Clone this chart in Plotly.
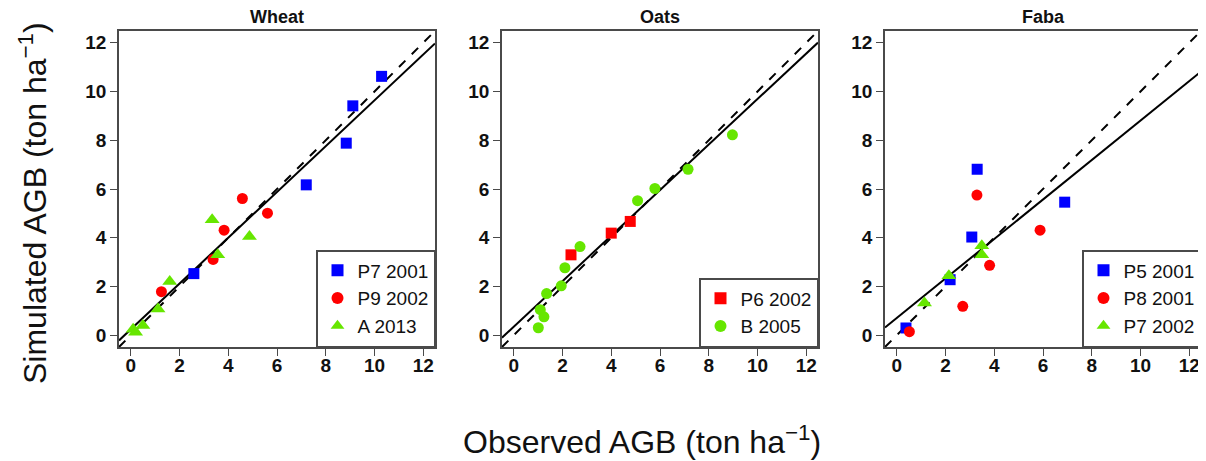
import plotly.graph_objects as go

# ---------------- data ----------------
panel_titles = ["Wheat", "Oats", "Faba"]
tick_vals = [0, 2, 4, 6, 8, 10, 12]
tick_text = ["0", "2", "4", "6", "8", "10", "12"]

# Wheat
wheat_p7_2001_obs = [2.59, 7.20, 8.84, 9.11, 10.29]
wheat_p7_2001_sim = [2.53, 6.17, 7.88, 9.41, 10.62]
wheat_p9_2002_obs = [1.26, 3.38, 3.83, 4.58, 5.61]
wheat_p9_2002_sim = [1.79, 3.11, 4.31, 5.61, 5.01]
wheat_a_2013_obs = [0.10, 0.20, 0.50, 1.12, 1.60, 3.34, 3.57, 4.87]
wheat_a_2013_sim = [0.25, 0.12, 0.40, 1.08, 2.21, 4.74, 3.30, 4.05]

# Oats
oats_p6_2002_obs = [2.35, 4.00, 4.78]
oats_p6_2002_sim = [3.30, 4.19, 4.67]
oats_b_2005_obs = [1.01, 1.09, 1.24, 1.35, 1.95, 2.10, 2.72, 5.08, 5.79, 7.15, 8.97]
oats_b_2005_sim = [0.31, 1.05, 0.76, 1.71, 2.03, 2.77, 3.64, 5.52, 6.02, 6.81, 8.22]

# Faba
faba_p5_2001_obs = [0.38, 2.19, 3.08, 3.30, 6.89]
faba_p5_2001_sim = [0.30, 2.28, 4.03, 6.81, 5.46]
faba_p8_2001_obs = [0.52, 2.71, 3.29, 3.81, 5.88]
faba_p8_2001_sim = [0.15, 1.19, 5.75, 2.87, 4.31]
faba_p7_2002_obs = [1.14, 2.14, 3.49, 3.49]
faba_p7_2002_sim = [1.32, 2.44, 3.67, 3.30]

# fitted regression lines (intercept, slope) per panel
fit_intercepts = [0.24, 0.35, 0.71]
fit_slopes = [0.94, 0.934, 0.81]

# ---------------- styling ----------------
BLUE = "#0000FF"
RED = "#FF0000"
GREEN = "#66E600"
FRAME = "#4a4a4a"
FONT = "Liberation Sans, Arial, sans-serif"
AX_RANGE = [-0.48, 12.48]

W, H = 1206, 461
OFF = 8  # page body margin of the browser


def px(x):
    return (x - OFF) / W


def py(y):
    return 1 - (y - OFF) / H


x_domains = [[px(119), px(435)], [px(502), px(818)], [px(885), px(1201)]]
y_domain = [py(347), py(31)]

series = [
    [("P7 2001", wheat_p7_2001_obs, wheat_p7_2001_sim, BLUE, "square", 11),
     ("P9 2002", wheat_p9_2002_obs, wheat_p9_2002_sim, RED, "circle", 11),
     ("A 2013", wheat_a_2013_obs, wheat_a_2013_sim, GREEN, "triangle-up", 13)],
    [("P6 2002", oats_p6_2002_obs, oats_p6_2002_sim, RED, "square", 11),
     ("B 2005", oats_b_2005_obs, oats_b_2005_sim, GREEN, "circle", 11)],
    [("P5 2001", faba_p5_2001_obs, faba_p5_2001_sim, BLUE, "square", 11),
     ("P8 2001", faba_p8_2001_obs, faba_p8_2001_sim, RED, "circle", 11),
     ("P7 2002", faba_p7_2002_obs, faba_p7_2002_sim, GREEN, "triangle-up", 13)],
]

fig = go.Figure()
legend_names = ["legend", "legend2", "legend3"]

for i in range(3):
    xa = "x" if i == 0 else f"x{i+1}"
    ya = "y" if i == 0 else f"y{i+1}"
    # 1:1 dashed line
    fig.add_trace(go.Scatter(x=AX_RANGE, y=AX_RANGE, mode="lines",
                             line=dict(color="black", width=2, dash="dash"),
                             xaxis=xa, yaxis=ya, showlegend=False, hoverinfo="skip"))
    # fitted line
    b0, b1 = fit_intercepts[i], fit_slopes[i]
    fig.add_trace(go.Scatter(x=AX_RANGE, y=[b0 + b1 * v for v in AX_RANGE], mode="lines",
                             line=dict(color="black", width=2),
                             xaxis=xa, yaxis=ya, showlegend=False, hoverinfo="skip"))
    for name, xs, ys, col, sym, sz in series[i]:
        fig.add_trace(go.Scatter(x=xs, y=ys, mode="markers", name=name,
                                 marker=dict(color=col, symbol=sym, size=sz, line=dict(width=0)),
                                 xaxis=xa, yaxis=ya, legend=legend_names[i]))

layout = dict(
    width=W, height=H,
    margin=dict(l=0, r=0, t=0, b=0),
    paper_bgcolor="white", plot_bgcolor="white",
    font=dict(family=FONT, color="black"),
    showlegend=True,
)

for i in range(3):
    xk = "xaxis" if i == 0 else f"xaxis{i+1}"
    yk = "yaxis" if i == 0 else f"yaxis{i+1}"
    anchor_x = "y" if i == 0 else f"y{i+1}"
    anchor_y = "x" if i == 0 else f"x{i+1}"
    common = dict(range=AX_RANGE, tickvals=tick_vals, ticktext=tick_text,
                  ticks="outside", ticklen=7, tickwidth=1, tickcolor=FRAME,
                  showline=True, mirror=True, linecolor=FRAME, linewidth=1.5,
                  showgrid=False, zeroline=False, automargin=False,
                  tickfont=dict(family=FONT, size=19, color="#111", weight="bold"))
    layout[xk] = dict(domain=x_domains[i], anchor=anchor_x, ticklabelstandoff=-7, **common)
    layout[yk] = dict(domain=y_domain, anchor=anchor_y, **common)
    layout[legend_names[i]] = dict(
        x=x_domains[i][1], xanchor="right", y=y_domain[0], yanchor="bottom",
        bgcolor="white", bordercolor=FRAME, borderwidth=1.5,
        font=dict(family=FONT, size=19, color="#111"),
        tracegroupgap=0, itemsizing="constant",
    )

fig.update_layout(**layout)

annotations = []
for i in range(3):
    annotations.append(dict(text=f"<b>{panel_titles[i]}</b>", x=sum(x_domains[i]) / 2, y=py(17),
                            xref="paper", yref="paper", showarrow=False,
                            xanchor="center", yanchor="middle",
                            font=dict(family=FONT, size=18, color="#111")))
annotations.append(dict(text="Observed AGB (ton ha<sup>\u22121</sup>)", x=px(642), y=py(440),
                        xref="paper", yref="paper", showarrow=False,
                        xanchor="center", yanchor="middle",
                        font=dict(family=FONT, size=32, color="#111")))
annotations.append(dict(text="Simulated AGB (ton ha<sup>\u22121</sup>)", x=px(33), y=py(203),
                        xref="paper", yref="paper", showarrow=False, textangle=-90,
                        xanchor="center", yanchor="middle",
                        font=dict(family=FONT, size=32, color="#111")))
fig.update_layout(annotations=annotations)

fig.write_html("out.html")
